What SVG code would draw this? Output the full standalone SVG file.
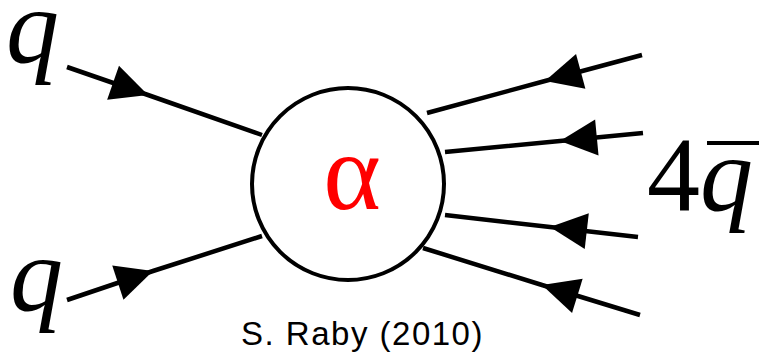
<svg xmlns="http://www.w3.org/2000/svg" width="759" height="358" viewBox="0 0 759 358">
<style>
.ln{fill:none;stroke:#000;stroke-width:4.5;marker-mid:url(#arr)}
</style>
<defs>
<marker id="arr" markerUnits="userSpaceOnUse" markerWidth="42" markerHeight="42" viewBox="-40 -20 42 40" refX="0" refY="0" orient="auto">
<path d="M0,0 L-37,-18 L-37,18 Z" fill="#000"/>
</marker>
</defs>
<rect width="759" height="358" fill="#fff"/>
<g id="connectors">
<path class="ln" d="M67,67 L148,95 L262,135"/>
<path class="ln" d="M67,300 L153,271 L262,236"/>
<path class="ln" d="M642,55 L545,81 L427,113"/>
<path class="ln" d="M643,133 L560,141 L445,152"/>
<path class="ln" d="M638,237 L550,227 L445,215"/>
<path class="ln" d="M640,315 L542,285 L423,248"/>
</g>
<g id="vertex">
<circle cx="348" cy="184" r="96" fill="#fff" stroke="#000" stroke-width="4"/>
<text x="352" y="209" text-anchor="middle" font-family="Liberation Serif" font-size="110" fill="#ff0000">α</text>
</g>
<g id="q-top"><text x="6" y="62" font-family="Liberation Serif" font-style="italic" font-size="106">q</text></g>
<g id="q-bottom"><text x="10" y="310" font-family="Liberation Serif" font-style="italic" font-size="106">q</text></g>
<g id="qbar4">
<text x="647" y="210" font-family="Liberation Serif" font-size="106">4</text>
<text x="700" y="210" font-family="Liberation Serif" font-style="italic" font-size="106">q</text>
<line x1="707" y1="143" x2="759" y2="143" stroke="#000" stroke-width="4"/>
</g>
<g id="caption"><text x="241" y="345" font-family="Liberation Sans" font-size="33" letter-spacing="1.5">S. Raby (2010)</text></g>
</svg>
